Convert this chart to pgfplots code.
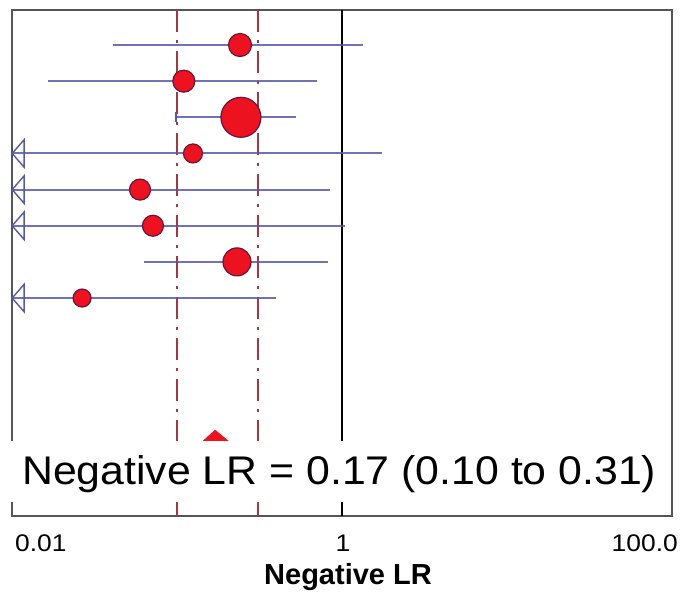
\documentclass[border=0pt]{standalone}
\usepackage{fontspec}
\setmainfont{Liberation Sans}
\usepackage{graphicx}
\usepackage{pgfplots}
\pgfplotsset{compat=1.18}
\definecolor{cired}{RGB}{236,18,32}
\definecolor{cirline}{RGB}{110,20,60}
\definecolor{ciblue}{RGB}{88,88,170}
\definecolor{refred}{RGB}{165,55,65}
\definecolor{axgray}{RGB}{85,85,85}
% open arrow head pointing left, for truncated lower limits
\pgfdeclareplotmark{larrow}{%
  \pgfpathmoveto{\pgfqpoint{-\pgfplotmarksize}{0pt}}%
  \pgfpathlineto{\pgfqpoint{\pgfplotmarksize}{2.3\pgfplotmarksize}}%
  \pgfpathlineto{\pgfqpoint{\pgfplotmarksize}{-2.3\pgfplotmarksize}}%
  \pgfpathclose\pgfusepathqstroke}

\pgfplotstableread{
x       y  r
0.241   1  11.5
0.110   2  11
0.244   3  20
0.125   4  9.5
0.0597  5  10.5
0.0715  6  10.5
0.231   7  14
0.0266  8  9
}\studies

\begin{document}
\begin{tikzpicture}
\useasboundingbox (-12pt,-76pt) rectangle (669pt,516pt);
\begin{axis}[
  name=ax, at={(0,0)}, anchor=south west,
  scale only axis, width=660pt, height=506pt,
  xmode=log, xmin=0.01, xmax=100,
  ymin=0.0315, ymax=14.03, y dir=reverse,
  xtick=\empty, ytick=\empty,
  axis line style={axgray, line width=2.5pt},
  clip=false,
  ci/.style={ciblue, line width=2pt, opacity=0.85},
]
  % pooled CI limits
  \addplot[refred, line width=1.8pt, dash pattern=on 22pt off 8pt on 3pt off 8pt]
    coordinates {(0.10,0.0315) (0.10,14.03)};
  \addplot[refred, line width=1.8pt, dash pattern=on 22pt off 8pt on 3pt off 8pt]
    coordinates {(0.31,0.0315) (0.31,14.03)};
  % line of no effect
  \addplot[black, line width=1.8pt] coordinates {(1,0.0315) (1,14.03)};

  % point estimates
  \addplot[scatter, only marks, mark=*, line width=1.2pt,
    scatter/use mapped color={draw=cirline, fill=cired},
    visualization depends on={\thisrow{r} \as \rad},
    scatter/@pre marker code/.append style={/tikz/mark size=\rad}]
    table[x=x, y=y, meta=r] {\studies};

  % confidence intervals
  \addplot[ci] coordinates {(0.0409,1) (1.341,1)};
  \addplot[ci] coordinates {(0.0165,2) (0.706,2)};
  \addplot[ci] coordinates {(0.0986,3) (0.526,3)};
  \addplot[ci] coordinates {(0.0101,4) (1.747,4)};
  \addplot[ci] coordinates {(0.0101,5) (0.846,5)};
  \addplot[ci] coordinates {(0.0101,6) (1.043,6)};
  \addplot[ci] coordinates {(0.0631,7) (0.823,7)};
  \addplot[ci] coordinates {(0.0101,8) (0.398,8)};
  \addplot[only marks, mark=|, mark size=5pt, ciblue, line width=1.4pt]
    coordinates {(0.0986,3)};
  \addplot[only marks, mark=larrow, mark size=6pt, ciblue, line width=1.4pt]
    coordinates {(0.0109,4) (0.0109,5) (0.0109,6) (0.0109,8)};

  % pooled estimate
  \addplot[fill=cired, draw=cired] coordinates {
    (0.10,12.625) (0.17,11.65) (0.31,12.625) (0.17,13.6)} -- cycle;
\end{axis}
\fill[white] ([shift={(-5pt,14pt)}]ax.south west) rectangle ([shift={(648pt,75pt)}]ax.south west);
\node[anchor=base west, inner sep=0pt, font=\fontsize{40}{40}\selectfont]
  at ([shift={(10pt,31pt)}]ax.south west) {\scalebox{1.07}[1]{Negative LR = 0.17 (0.10 to 0.31)}};
\node[anchor=base west, inner sep=0pt, font=\fontsize{24}{24}\selectfont]
  at ([shift={(3pt,-36pt)}]ax.south west) {\scalebox{1.1}[1]{0.01}};
\node[anchor=base, inner sep=0pt, font=\fontsize{24}{24}\selectfont]
  at ([shift={(331pt,-36pt)}]ax.south west) {\scalebox{1.1}[1]{1}};
\node[anchor=base east, inner sep=0pt, font=\fontsize{24}{24}\selectfont]
  at ([shift={(666pt,-36pt)}]ax.south west) {\scalebox{1.1}[1]{100.0}};
\node[anchor=base, inner sep=0pt, font=\fontsize{29}{29}\selectfont\bfseries]
  at ([shift={(336pt,-69pt)}]ax.south west) {Negative LR};
\end{tikzpicture}
\end{document}
